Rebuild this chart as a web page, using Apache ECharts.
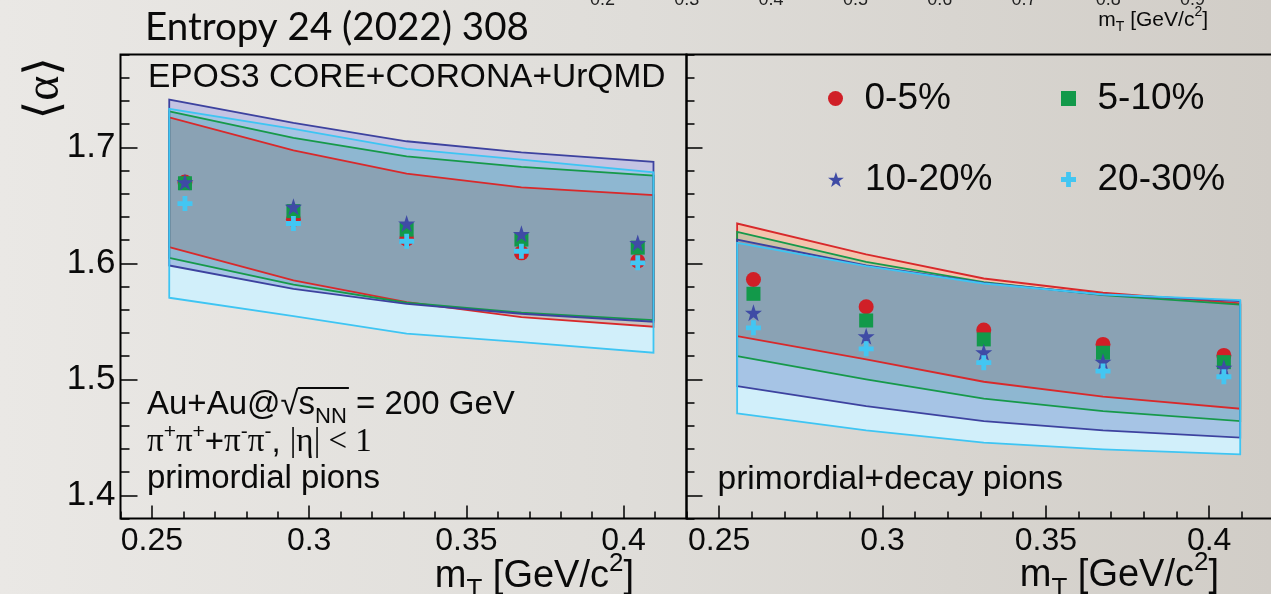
<!DOCTYPE html>
<html>
<head>
<meta charset="utf-8">
<script src="https://cdn.jsdelivr.net/npm/echarts@6.0.0/dist/echarts.min.js"></script>
<style>
html,body{margin:0;padding:0;background:#e0ded9;}
#c{width:1271px;height:594px;}
</style>
</head>
<body>
<div id="c"></div>
<script>
// ---------------- data ----------------
const centralityNames = ['0-5%', '5-10%', '10-20%', '20-30%'];
const bandMT  = [0.2555, 0.295, 0.331, 0.3675, 0.4095];
const pointMT = [0.2605, 0.295, 0.331, 0.3675, 0.4045];

// left panel: primordial pions
const primAlpha_0_5   = [1.670, 1.638, 1.621, 1.609, 1.602];
const primAlpha_5_10  = [1.669, 1.645, 1.629, 1.6205, 1.6135];
const primAlpha_10_20 = [1.670, 1.6487, 1.6343, 1.6254, 1.6176];
const primAlpha_20_30 = [1.6515, 1.6343, 1.619, 1.6104, 1.6004];
const primLow_0_5    = [1.6139, 1.5852, 1.5665, 1.5536, 1.5453];
const primHigh_0_5   = [1.7258, 1.6974, 1.6773, 1.6655, 1.6587];
const primLow_5_10   = [1.6047, 1.5817, 1.5660, 1.5574, 1.5510];
const primHigh_5_10  = [1.7310, 1.7081, 1.6922, 1.6831, 1.6756];
const primLow_10_20  = [1.5981, 1.5780, 1.5651, 1.5565, 1.5496];
const primHigh_10_20 = [1.7411, 1.7210, 1.7052, 1.6957, 1.6874];
const primLow_20_30  = [1.5703, 1.5544, 1.5393, 1.5320, 1.5229];
const primHigh_20_30 = [1.7331, 1.7158, 1.6986, 1.6894, 1.6785];

// right panel: primordial+decay pions
const decAlpha_0_5   = [1.5860, 1.5625, 1.5424, 1.5301, 1.5206];
const decAlpha_5_10  = [1.5737, 1.5507, 1.5344, 1.5229, 1.5148];
const decAlpha_10_20 = [1.5574, 1.5372, 1.5234, 1.5152, 1.5100];
const decAlpha_20_30 = [1.5444, 1.5263, 1.5143, 1.5071, 1.5022];
const decLow_0_5    = [1.5372, 1.5171, 1.4979, 1.4850, 1.4747];
const decHigh_0_5   = [1.6343, 1.6076, 1.5869, 1.5746, 1.5654];
const decLow_5_10   = [1.5200, 1.4999, 1.4833, 1.4726, 1.4640];
const decHigh_5_10  = [1.6271, 1.6013, 1.5837, 1.5725, 1.5643];
const decLow_10_20  = [1.4941, 1.4769, 1.4640, 1.4560, 1.4497];
const decHigh_10_20 = [1.6205, 1.5981, 1.5832, 1.5731, 1.5674];
const decLow_20_30  = [1.4706, 1.4560, 1.4454, 1.4396, 1.4353];
const decHigh_20_30 = [1.6177, 1.5975, 1.5826, 1.5731, 1.5682];

// tick labels
const xTickValues = [0.25, 0.3, 0.35, 0.4];
const yTickValues = [1.4, 1.5, 1.6, 1.7];
const topTickValues = [0.2, 0.3, 0.4, 0.5, 0.6, 0.7, 0.8, 0.9];

// ---------------- styles ----------------
const SANS = 'Liberation Sans';
const SERIF = 'Liberation Serif';
const markerColors = ['#d01f27', '#12994a', '#3f4ba5', '#43c6f2'];
const lineColors   = ['#d8292b', '#16994a', '#3d429f', '#3ec5f3'];
const fillColors   = ['rgba(224,86,24,0.35)', 'rgba(133,193,148,0.35)', 'rgba(19,19,143,0.25)', 'rgba(85,196,237,0.27)'];
const STAR = 'path://M50,0 L61.8,35.1 L98.1,35.1 L68.8,56.8 L79.4,91 L50,70 L20.6,91 L31.2,56.8 L1.9,35.1 L38.2,35.1 Z';
const CROSS = 'path://M34,0 H66 V34 H100 V66 H66 V100 H34 V66 H0 V34 H34 Z';
const SQUARE = 'path://M0,0 H10 V10 H0 Z';
const symbols = ['circle', 'rect', STAR, CROSS];
const symbolSizes = [15, 14, 17, 15];
const legendIcons = ['circle', SQUARE, STAR, CROSS];

const panels = [
  { means: [primAlpha_0_5, primAlpha_5_10, primAlpha_10_20, primAlpha_20_30],
    lows:  [primLow_0_5, primLow_5_10, primLow_10_20, primLow_20_30],
    highs: [primHigh_0_5, primHigh_5_10, primHigh_10_20, primHigh_20_30] },
  { means: [decAlpha_0_5, decAlpha_5_10, decAlpha_10_20, decAlpha_20_30],
    lows:  [decLow_0_5, decLow_5_10, decLow_10_20, decLow_20_30],
    highs: [decHigh_0_5, decHigh_5_10, decHigh_10_20, decHigh_20_30] }
];

function bandPoints(api, lo, hi) {
  const pts = [];
  for (let i = 0; i < bandMT.length; i++) pts.push(api.coord([bandMT[i], lo[i]]));
  for (let i = bandMT.length - 1; i >= 0; i--) pts.push(api.coord([bandMT[i], hi[i]]));
  return pts;
}

const tickStyle = { color: '#000', width: 1.5 };

const grids = [
  { left: 120.5, top: 54.5, width: 566, height: 464 },
  { left: 686.5, top: 54.5, width: 588, height: 464 }
].map(g => Object.assign(g, { show: true, borderColor: '#000', borderWidth: 2, backgroundColor: 'transparent', containLabel: false, outerBoundsMode: 'none' }));
grids.push({ left: 602.5, width: 590.1, top: -41, height: 32, show: false, containLabel: false, outerBoundsMode: 'none' });

const xAxis = [], yAxis = [];
[[13, 7, 17, 9, true], [13, 7, 16, 8, false]].forEach(([xMaj, xMin, yMaj, yMin, yLab], g) => {
  xAxis.push({ gridIndex: g, type: 'value', position: 'bottom', min: 0.24, max: 0.42, interval: 0.01,
    axisLine: { show: false }, splitLine: { show: false }, axisLabel: { show: false },
    axisTick: { show: true, inside: true, length: xMin, lineStyle: tickStyle } });
  xAxis.push({ gridIndex: g, type: 'value', position: 'bottom', min: 0.24, max: 0.42,
    axisLine: { show: false }, splitLine: { show: false },
    axisTick: { show: true, inside: true, length: xMaj, customValues: xTickValues, lineStyle: tickStyle },
    axisLabel: { show: true, customValues: xTickValues, margin: 7, fontSize: 32, fontFamily: SANS, color: '#0a0a0a',
      formatter: v => String(+v.toFixed(2)) } });
  yAxis.push({ gridIndex: g, type: 'value', position: 'left', min: 1.38, max: 1.78, interval: 0.02,
    axisLine: { show: false }, splitLine: { show: false }, axisLabel: { show: false },
    axisTick: { show: true, inside: true, length: yMin, lineStyle: tickStyle } });
  yAxis.push({ gridIndex: g, type: 'value', position: 'left', min: 1.38, max: 1.78,
    axisLine: { show: false }, splitLine: { show: false },
    axisTick: { show: true, inside: true, length: yMaj, customValues: yTickValues, lineStyle: tickStyle },
    axisLabel: { show: yLab, customValues: yTickValues, margin: 5, fontSize: 35, fontFamily: SANS, color: '#0a0a0a',
      formatter: v => v.toFixed(1) } });
});
// cut-off axis of the figure above
xAxis.push({ gridIndex: 2, type: 'value', position: 'bottom', min: 0.2, max: 0.9, interval: 0.1,
  axisLine: { show: false }, axisTick: { show: false }, splitLine: { show: false },
  axisLabel: { show: true, margin: 0, fontSize: 18, fontFamily: SANS, color: '#222', showMinLabel: true, showMaxLabel: true,
    formatter: v => topTickValues.includes(+v.toFixed(1)) ? v.toFixed(1) : '' } });
yAxis.push({ gridIndex: 2, type: 'value', show: false });

const series = [];
panels.forEach((p, g) => {
  const xi = 2 * g + 1, yi = 2 * g + 1;
  // white underlay (union of all bands)
  series.push({ type: 'custom', xAxisIndex: xi, yAxisIndex: yi, silent: true, z: 2,
    data: [[bandMT[0], p.lows[0][0]]],
    renderItem: (params, api) => ({ type: 'group', children: p.lows.map((lo, k) => ({
      type: 'polygon', shape: { points: bandPoints(api, lo, p.highs[k]) }, style: { fill: '#ffffff', stroke: null } })) })
  });
  // translucent fills
  p.lows.forEach((lo, k) => {
    series.push({ type: 'custom', xAxisIndex: xi, yAxisIndex: yi, silent: true, z: 2,
      data: [[bandMT[0], lo[0]]],
      renderItem: (params, api) => ({ type: 'polygon', shape: { points: bandPoints(api, lo, p.highs[k]) },
        style: { fill: fillColors[k], stroke: null } })
    });
  });
  // band outlines on top
  p.lows.forEach((lo, k) => {
    series.push({ type: 'custom', xAxisIndex: xi, yAxisIndex: yi, silent: true, z: 2,
      data: [[bandMT[0], lo[0]]],
      renderItem: (params, api) => ({ type: 'polygon', shape: { points: bandPoints(api, lo, p.highs[k]) },
        style: { fill: null, stroke: lineColors[k], lineWidth: 1.8 } })
    });
  });
  p.means.forEach((m, k) => {
    series.push({ type: 'scatter', name: centralityNames[k], xAxisIndex: xi, yAxisIndex: yi, z: 3, silent: true,
      symbol: symbols[k], symbolSize: symbolSizes[k], itemStyle: { color: markerColors[k], opacity: 1 },
      emphasis: { disabled: true },
      data: pointMT.map((x, i) => [x, m[i]]) });
  });
});

const legend = centralityNames.map((name, i) => ({
  data: [{ name, icon: legendIcons[i] }],
  left: [828, 1061, 828, 1061][i], top: [80, 80, 161, 161][i],
  orient: 'horizontal', padding: 0, itemWidth: 48, itemHeight: 15, selectedMode: false,
  textStyle: { fontSize: 37, fontFamily: SANS, color: '#0a0a0a' }
}));

// ---------------- text ----------------
const mctx = document.createElement('canvas').getContext('2d');
function tw(text, font) { mctx.font = font; return mctx.measureText(text).width; }

function rt(x, baseline, f, text, rich, align) {
  const r = {};
  Object.keys(rich).forEach(k => { r[k] = Object.assign({ fontFamily: SANS, fill: '#0a0a0a', lineHeight: f, verticalAlign: 'middle' }, rich[k]); });
  return { type: 'text', x: x, y: baseline - 0.3465 * f, silent: true, z: 10,
    style: { text: text, rich: r, align: align || 'left', textAlign: align || 'left', verticalAlign: 'middle', textVerticalAlign: 'middle', fill: '#0a0a0a' } };
}

const F = 33;
const auX = 147, auBase = 416;
const sqrtStart = auX + tw('Au+Au@\u221A', F + 'px "' + SANS + '"');
const sqrtEnd = sqrtStart + tw('s', F + 'px "' + SANS + '"') + tw('NN', '22px "' + SANS + '"') + 2;

const titleRich = { r: { fontSize: 38, lineHeight: 52 }, s: { fontSize: 26, lineHeight: 26, verticalAlign: 'bottom' }, p: { fontSize: 26, lineHeight: 32, verticalAlign: 'top' } };
const smallTitleRich = { r: { fontSize: 21, lineHeight: 29 }, s: { fontSize: 14, lineHeight: 14, verticalAlign: 'bottom' }, p: { fontSize: 14, lineHeight: 18, verticalAlign: 'top' } };

const graphic = [
  { type: 'text', x: 145, y: 42 - 0.387 * 38.5, silent: true,
    style: { text: 'Entropy 24 (2022) 308', font: '38.5px Lato', fill: '#0a0a0a', verticalAlign: 'middle', textVerticalAlign: 'middle' } },
  { type: 'text', x: 45.7, y: 88.3, rotation: Math.PI / 2, silent: true,
    style: { text: '{b|\u27E8}{a|\u03B1}{b|\u27E9}', align: 'center', textAlign: 'center', verticalAlign: 'middle', textVerticalAlign: 'middle',
      rich: { b: { fontFamily: 'DejaVu Serif', fontSize: 48, fill: '#0a0a0a' }, a: { fontFamily: SERIF, fontSize: 48, fill: '#0a0a0a' } } } },
  rt(148, 89, 33.5, '{r|EPOS3 CORE+CORONA+UrQMD}', { r: { fontSize: 33.5 } }),
  rt(auX, auBase, F, '{r|Au+Au@\u221As}{s|NN}{r| = 200 GeV}',
    { r: { fontSize: F, lineHeight: 46 }, s: { fontSize: 22, lineHeight: 22, verticalAlign: 'bottom' } }),
  { type: 'line', silent: true, z: 10, shape: { x1: sqrtStart - 1, y1: auBase - 28, x2: sqrtEnd, y2: auBase - 28 }, style: { stroke: '#0a0a0a', lineWidth: 2 } },
  rt(auX, 454, F, '{g|\u03C0}{p|+}{g|\u03C0}{p|+}{r|+}{g|\u03C0}{p|-}{g|\u03C0}{p|-}{r|, }{g||\u03B7| < 1}',
    { r: { fontSize: F, lineHeight: 42 }, g: { fontSize: F, lineHeight: 42, fontFamily: SERIF }, p: { fontSize: 21, lineHeight: 21, verticalAlign: 'top' } }),
  rt(auX, 490, F, '{r|primordial pions}', { r: { fontSize: F } }),
  rt(717.5, 491, 33.5, '{r|primordial+decay pions}', { r: { fontSize: 33.5 } }),
  rt(634, 590, 38, '{r|m}{s|T}{r| [GeV/c}{p|2}{r|]}', titleRich, 'right'),
  rt(1219, 589, 38, '{r|m}{s|T}{r| [GeV/c}{p|2}{r|]}', titleRich, 'right'),
  rt(1208, 27, 21, '{r|m}{s|T}{r| [GeV/c}{p|2}{r|]}', smallTitleRich, 'right')
];

const chart = echarts.init(document.getElementById('c'), null, { renderer: 'canvas' });
chart.setOption({
  animation: false,
  backgroundColor: { type: 'linear', x: 0, y: 0, x2: 1, y2: 0,
    colorStops: [{ offset: 0, color: '#eae8e5' }, { offset: 0.5, color: '#dfddd9' }, { offset: 1, color: '#d1cdc7' }] },
  grid: grids, xAxis: xAxis, yAxis: yAxis, legend: legend, series: series, graphic: graphic
});
</script>
</body>
</html>
